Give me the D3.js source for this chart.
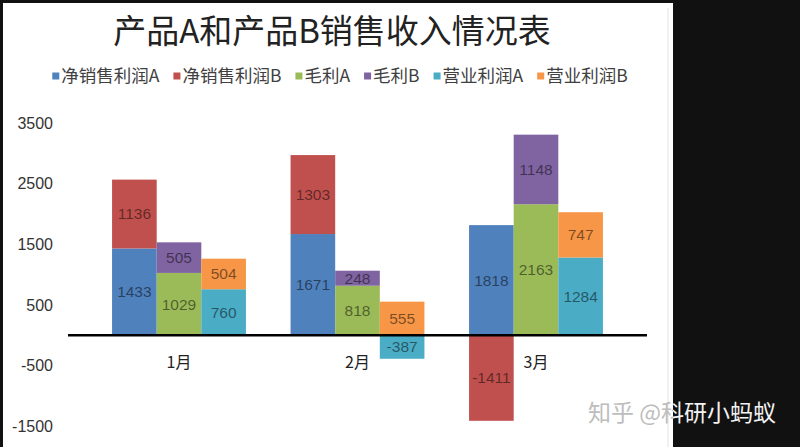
<!DOCTYPE html>
<html>
<head>
<meta charset="utf-8">
<script src="https://cdn.jsdelivr.net/npm/d3@7"></script>
<style>
  body { margin: 0; background: #111; }
  svg { display: block; }
</style>
</head>
<body>
<svg id="salesChart" width="800" height="447"></svg>
<script>
// data
let months = ["1月", "2月", "3月"];
let netA = [1433, 1671, 1818];
let netB = [1136, 1303, -1411];
let grossA = [1029, 818, 2163];
let grossB = [505, 248, 1148];
let opA = [760, -387, 1284];
let opB = [504, 555, 747];
let yTicks = [-1500, -500, 500, 1500, 2500, 3500];

let seriesNames = ["净销售利润A", "净销售利润B", "毛利A", "毛利B", "营业利润A", "营业利润B"];
let colors = ["#4f81bd", "#c0504d", "#9bbb59", "#8064a2", "#4bacc6", "#f79646"];

// three stacked columns per month, each A under B
let groups = [
  { key: "net", a: netA, b: netB, ca: colors[0], cb: colors[1] },
  { key: "gross", a: grossA, b: grossB, ca: colors[2], cb: colors[3] },
  { key: "op", a: opA, b: opB, ca: colors[4], cb: colors[5] }
];

let svg = d3.select("svg#salesChart");

// white sheet on the black screen
svg.append("rect").attr("x", 0).attr("y", 0).attr("width", 800).attr("height", 447).attr("fill", "#111");
svg.append("rect").attr("x", 3).attr("y", 3).attr("width", 670).attr("height", 444).attr("fill", "#fff");
svg.append("line")
  .attr("x1", 668).attr("x2", 668).attr("y1", 8).attr("y2", 447)
  .attr("stroke", "#e2e2e2").attr("stroke-width", 1);

let xScale = d3.scaleBand().domain(months).range([89.75, 625.25]).padding(0),
  xInner = d3.scaleBand().domain(groups.map((g) => g.key))
    .range([0, xScale.bandwidth()]).paddingInner(0).paddingOuter(0.5),
  yScale = d3.scaleLinear().domain([-1500, 3500]).range([426.2, 123.2]);

// title
svg.append("text")
  .attr("x", 332).attr("y", 43)
  .attr("text-anchor", "middle")
  .style("font-family", "'Noto Sans CJK SC', sans-serif")
  .style("font-size", "33px")
  .attr("fill", "#222")
  .text("产品A和产品B销售收入情况表");

// legend
let legend = svg.append("g").attr("class", "legend");
let lx = 0;
seriesNames.forEach(function (name, i) {
  let item = legend.append("g").attr("transform", "translate(" + lx + ",0)");
  item.append("rect").attr("x", 0).attr("y", -3.5).attr("width", 7).attr("height", 7).attr("fill", colors[i]);
  let t = item.append("text")
    .attr("x", 9).attr("y", 0)
    .attr("dy", "0.35em")
    .style("font-family", "'Noto Sans CJK SC', sans-serif")
    .style("font-size", "17.5px")
    .attr("fill", "#404040")
    .text(name);
  lx += 9 + t.node().getComputedTextLength() + 14;
});
lx -= 14;
legend.attr("transform", "translate(" + (340 - lx / 2) + ",76)");

// y axis labels (no axis line in the reference)
let yAxis = d3.axisLeft(yScale).tickValues(yTicks).tickSize(0).tickPadding(0)
  .tickFormat((d) => String(d));
let yG = svg.append("g").attr("transform", "translate(53,0)").call(yAxis);
yG.select(".domain").remove();
yG.selectAll("text")
  .style("font-family", "'Liberation Sans', Arial, sans-serif")
  .style("font-size", "16px")
  .attr("fill", "#333");

// bars
let g = svg.append("g").attr("class", "bars");
groups.forEach(function (grp) {
  let rows = months.map((m, i) => ({ month: m, A: grp.a[i], B: grp.b[i] }));
  let stacked = d3.stack().keys(["A", "B"]).offset(d3.stackOffsetDiverging)(rows);
  stacked.forEach(function (layer) {
    let fill = layer.key == "A" ? grp.ca : grp.cb;
    let sel = g.selectAll(".bar-" + grp.key + layer.key)
      .data(layer)
      .enter();
    sel.append("rect")
      .attr("class", "bar-" + grp.key + layer.key)
      .attr("x", (d) => xScale(d.data.month) + xInner(grp.key))
      .attr("y", (d) => yScale(Math.max(d[0], d[1])))
      .attr("width", xInner.bandwidth())
      .attr("height", (d) => Math.abs(yScale(d[0]) - yScale(d[1])))
      .attr("fill", fill);
    sel.append("text")
      .attr("x", (d) => xScale(d.data.month) + xInner(grp.key) + xInner.bandwidth() / 2)
      .attr("y", (d) => yScale((d[0] + d[1]) / 2))
      .attr("dy", "0.35em")
      .attr("text-anchor", "middle")
      .style("font-family", "'Liberation Sans', Arial, sans-serif")
      .style("font-size", "15.5px")
      .attr("fill", "#000")
      .attr("fill-opacity", 0.5)
      .text((d) => String(d.data[layer.key]));
  });
});

// zero line
svg.append("line")
  .attr("x1", 68).attr("x2", 647)
  .attr("y1", yScale(0)).attr("y2", yScale(0))
  .attr("stroke", "#000").attr("stroke-width", 2.5);

// month labels under the zero line
svg.selectAll(".month")
  .data(months)
  .enter()
  .append("text")
  .attr("class", "month")
  .attr("x", (d) => xScale(d) + xScale.bandwidth() / 2)
  .attr("y", 362)
  .attr("dy", "0.35em")
  .attr("text-anchor", "middle")
  .style("font-family", "'Noto Sans CJK SC', sans-serif")
  .style("font-size", "16px")
  .attr("fill", "#222")
  .text((d) => d);

// watermark, grey on the sheet and white on the black part
let defs = svg.append("defs");
defs.append("clipPath").attr("id", "clip-sheet")
  .append("rect").attr("x", 0).attr("y", 0).attr("width", 673).attr("height", 447);
defs.append("clipPath").attr("id", "clip-dark")
  .append("rect").attr("x", 673).attr("y", 0).attr("width", 127).attr("height", 447);
[["clip-sheet", "#bdbdbd"], ["clip-dark", "#f2f2f2"]].forEach(function (c) {
  svg.append("text")
    .attr("clip-path", "url(#" + c[0] + ")")
    .attr("x", 588).attr("y", 421)
    .style("font-family", "'Noto Sans CJK SC', sans-serif")
    .style("font-size", "23px")
    .attr("fill", c[1])
    .text("知乎 @科研小蚂蚁");
});
</script>
</body>
</html>
